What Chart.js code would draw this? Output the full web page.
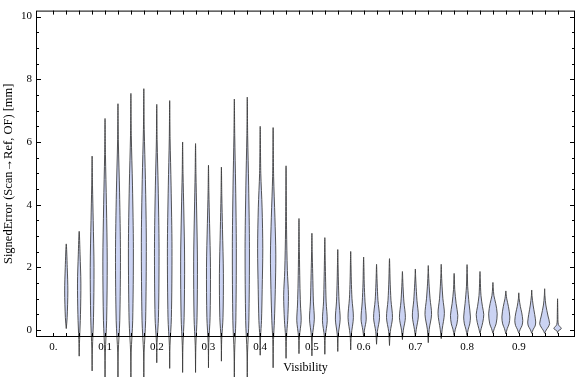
<!DOCTYPE html>
<html>
<head>
<meta charset="utf-8">
<script src="https://cdn.jsdelivr.net/npm/chart.js@4.4.1/dist/chart.umd.min.js"></script>
<style>
html,body{margin:0;padding:0;background:#fff}
#wrap{width:576px;height:377px}
</style>
</head>
<body>
<div id="wrap"><canvas id="violin"></canvas></div>
<script>
// violin centres (visibility bins)
const visibility=[0.025,0.05,0.075,0.1,0.125,0.15,0.175,0.2,0.225,0.25,0.275,0.3,0.325,0.35,0.375,0.4,0.425,0.45,0.475,0.5,
  0.525,0.55,0.575,0.6,0.625,0.65,0.675,0.7,0.725,0.75,0.775,0.8,0.825,0.85,0.875,0.9,0.925,0.95,0.975];
// max / min of each violin (mm)
const tops=[2.75,3.15,5.55,6.75,7.22,7.55,7.7,7.2,7.32,6.0,5.95,5.26,5.2,7.37,7.43,6.5,6.46,5.24,3.56,3.09,
  2.95,2.57,2.51,2.33,2.1,2.28,1.87,1.95,2.06,2.1,1.81,2.09,1.87,1.52,1.25,1.19,1.28,1.32,1.0];
const bottoms=[0.05,-0.83,-1.3,-1.8,-1.9,-2.0,-2.0,-1.04,-1.22,-1.35,-1.35,-1.2,-0.99,-2.0,-2.0,-0.8,-1.2,-0.9,-0.75,-0.82,
  -0.77,-0.68,-0.63,-0.21,-0.45,-0.49,-0.3,-0.2,-0.4,-0.27,-0.17,-0.17,-0.1,-0.1,-0.12,-0.1,-0.1,-0.1,-0.1];
// density profile of each violin: [error, density]
const shapes=[
  [[0.4,0.9],[1.25,1.6],[2.0,1.0]],
  [[-0.3,0.4],[0.5,1.3],[1.5,1.7],[2.4,0.9]],
  [[-0.6,0.3],[0.4,1.4],[2.0,1.9],[3.5,1.1],[4.6,0.4]],
  [[-0.7,0.3],[0.3,1.6],[2.2,2.2],[4.0,1.4],[5.6,0.4]],
  [[-0.7,0.3],[0.3,1.8],[2.4,2.5],[4.4,1.6],[6.0,0.4]],
  [[-0.7,0.3],[0.3,1.8],[2.6,2.5],[4.6,1.6],[6.2,0.4]],
  [[-0.7,0.3],[0.3,1.8],[2.8,2.5],[4.8,1.6],[6.4,0.4]],
  [[-0.4,0.3],[0.4,1.7],[2.6,2.3],[4.6,1.4],[6.0,0.4]],
  [[-0.5,0.3],[0.4,1.7],[2.6,2.3],[4.6,1.4],[6.1,0.4]],
  [[-0.5,0.3],[0.4,1.5],[2.2,2.0],[3.8,1.2],[5.0,0.4]],
  [[-0.5,0.3],[0.4,1.5],[2.2,1.9],[3.8,1.1],[5.0,0.4]],
  [[-0.4,0.3],[0.4,1.6],[2.0,2.0],[3.4,1.1],[4.4,0.4]],
  [[-0.3,0.3],[0.4,1.6],[1.8,2.0],[3.2,1.1],[4.3,0.4]],
  [[-0.7,0.3],[0.3,1.5],[2.6,2.0],[4.6,1.3],[6.2,0.4]],
  [[-0.7,0.3],[0.3,1.6],[2.6,2.2],[4.6,1.4],[6.2,0.4]],
  [[-0.2,0.4],[0.3,1.3],[1.3,2.0],[2.6,2.6],[3.9,1.9],[5.0,0.6]],
  [[-0.3,0.4],[0.3,1.3],[1.3,2.2],[2.4,2.7],[3.6,1.8],[4.9,0.5]],
  [[-0.2,0.5],[0.3,1.6],[1.1,2.4],[1.9,1.3],[3.2,0.5]],
  [[-0.2,0.5],[0.3,2.2],[0.8,1.5],[1.5,0.9],[2.5,0.4]],
  [[-0.2,0.5],[0.35,2.4],[0.9,1.5],[1.8,0.8],[2.5,0.3]],
  [[-0.2,0.5],[0.3,2.4],[0.9,1.3],[1.7,0.7],[2.4,0.3]],
  [[-0.15,0.5],[0.35,2.4],[0.9,1.3],[1.6,0.6],[2.1,0.3]],
  [[-0.15,0.6],[0.4,2.7],[1.0,1.3],[1.6,0.6],[2.1,0.3]],
  [[0.0,0.8],[0.35,2.6],[0.9,1.4],[1.5,0.6],[2.0,0.3]],
  [[-0.05,0.8],[0.4,3.0],[0.95,1.4],[1.5,0.6],[1.8,0.3]],
  [[-0.05,0.8],[0.4,3.0],[0.95,1.5],[1.6,0.6],[2.0,0.3]],
  [[0.0,0.9],[0.4,3.0],[0.9,1.5],[1.4,0.6],[1.65,0.3]],
  [[0.02,0.9],[0.45,3.0],[0.95,1.6],[1.5,0.6],[1.7,0.3]],
  [[0.02,0.9],[0.5,3.3],[1.0,1.8],[1.5,0.7],[1.8,0.3]],
  [[0.03,1.0],[0.53,3.2],[1.0,1.7],[1.5,0.7],[1.8,0.3]],
  [[0.03,1.2],[0.2,2.8],[0.47,3.7],[0.85,2.0],[1.3,0.6],[1.6,0.3]],
  [[0.03,1.2],[0.2,2.7],[0.42,3.4],[0.85,2.0],[1.4,0.6],[1.8,0.3]],
  [[0.05,1.2],[0.25,2.8],[0.5,3.8],[0.75,2.5],[1.1,1.0],[1.6,0.3]],
  [[0.05,1.4],[0.2,3.2],[0.52,4.3],[0.85,2.8],[1.1,1.0],[1.35,0.3]],
  [[0.05,1.4],[0.2,3.2],[0.42,4.0],[0.75,2.6],[1.0,0.9],[1.15,0.3]],
  [[0.03,1.5],[0.15,3.3],[0.31,4.0],[0.55,3.0],[0.75,1.6],[1.0,0.4]],
  [[0.03,1.6],[0.13,3.4],[0.26,4.0],[0.5,3.0],[0.8,1.4],[1.1,0.3]],
  [[0.0,1.5],[0.1,3.6],[0.21,5.0],[0.45,3.4],[0.8,1.2],[1.1,0.3]],
  [[-0.03,0.5],[0.05,3.7],[0.18,0.8],[0.5,0.3]]
];

const densityToX=0.0125/6.5; // density unit -> visibility units

function violin(i){
  const x0=visibility[i];
  const pts=[{x:x0,y:bottoms[i]}];
  shapes[i].forEach(p=>pts.push({x:x0+p[1]*densityToX,y:p[0]}));
  pts.push({x:x0,y:tops[i]});
  shapes[i].slice().reverse().forEach(p=>pts.push({x:x0-p[1]*densityToX,y:p[0]}));
  pts.push({x:x0,y:bottoms[i]});
  return pts;
}

const datasets=visibility.map((v,i)=>({
  data:violin(i),
  showLine:true,
  fill:'shape',
  backgroundColor:'#cbd3f3',
  borderColor:'rgba(55,55,55,0.85)',
  borderWidth:1,
  pointRadius:0,
  tension:0.3,
  clip:false
}));

// frame with inward ticks on all four sides
const frame={
  id:'frame',
  afterDatasetsDraw(chart){
    const {ctx,chartArea:a,scales:{x,y}}=chart;
    ctx.save();
    ctx.strokeStyle='#000';
    ctx.lineWidth=1;
    ctx.strokeRect(a.left+0.5,a.top+0.5,a.right-a.left-1,a.bottom-a.top-1);
    ctx.beginPath();
    x.ticks.forEach(t=>{
      if(t.value<-1e-9||t.value>0.99) return;
      const px=Math.round(x.getPixelForValue(t.value))+0.5;
      ctx.moveTo(px,a.top);ctx.lineTo(px,a.top+4);
      ctx.moveTo(px,a.bottom);ctx.lineTo(px,a.bottom-4);
    });
    y.ticks.forEach(t=>{
      if(t.value<-1e-9) return;
      const major=Math.abs(t.value/2-Math.round(t.value/2))<1e-6;
      const len=major?5:3;
      const py=Math.round(y.getPixelForValue(t.value))+0.5;
      ctx.moveTo(a.left,py);ctx.lineTo(a.left+len,py);
      ctx.moveTo(a.right,py);ctx.lineTo(a.right-len,py);
    });
    ctx.stroke();
    ctx.restore();
  }
};

const serif='"Liberation Serif","Times New Roman",serif';

new Chart(document.getElementById('violin'),{
  type:'scatter',
  data:{datasets:datasets},
  options:{
    responsive:true,
    maintainAspectRatio:false,
    animation:false,
    elements:{line:{capBezierPoints:false}},
    layout:{padding:{top:4,right:1,left:0,bottom:0}},
    plugins:{legend:{display:false},tooltip:{enabled:false}},
    scales:{
      x:{
        type:'linear',min:-0.0335,max:1.0087,
        afterFit(s){s.height=40;},
        grid:{display:false,drawTicks:false},
        border:{display:false},
        ticks:{
          stepSize:0.025,includeBounds:false,autoSkip:false,maxRotation:0,minRotation:0,padding:4,
          color:'#000',font:{family:serif,size:11},
          callback(v){
            if(v<-1e-9||v>0.95) return '';
            if(Math.abs(v*10-Math.round(v*10))>1e-6) return '';
            return Math.abs(v)<1e-9?'0.':(Math.round(v*10)/10).toString();
          }
        },
        title:{display:true,text:'Visibility',color:'#000',font:{family:serif,size:12},padding:{top:0,bottom:2}}
      },
      y:{
        type:'linear',min:-0.219,max:10.19,
        afterFit(s){s.width=36;},
        grid:{display:false,drawTicks:false},
        border:{display:false},
        ticks:{
          stepSize:0.5,includeBounds:false,autoSkip:false,padding:4,
          color:'#000',font:{family:serif,size:11},
          callback(v){
            if(v<-1e-9) return '';
            return Math.abs(v/2-Math.round(v/2))<1e-6?String(Math.round(v)):'';
          }
        },
        title:{display:true,text:'SignedError (Scan\u2192Ref, OF) [mm]',color:'#000',font:{family:serif,size:12.5},padding:{top:1,bottom:0}}
      }
    }
  },
  plugins:[frame]
});
</script>
</body>
</html>
